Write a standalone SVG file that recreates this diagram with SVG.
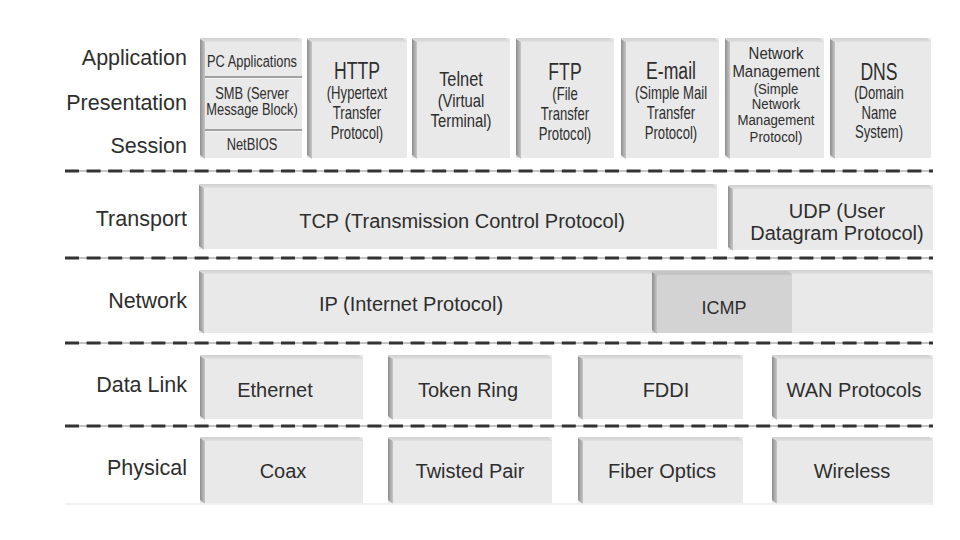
<svg xmlns="http://www.w3.org/2000/svg" width="960" height="540" viewBox="0 0 960 540">
<defs>
<linearGradient id="gSide" x1="0" y1="0" x2="1" y2="0">
<stop offset="0" stop-color="#8e8e8e"/><stop offset="1" stop-color="#c6c6c6"/>
</linearGradient>
<linearGradient id="gTop" x1="0" y1="0" x2="0" y2="1">
<stop offset="0" stop-color="#cfcfcf"/><stop offset="1" stop-color="#e0e0e0"/>
</linearGradient>
<style>
.face{fill:#e9e9e9}
.dark{fill:#d3d3d3}
.top{fill:url(#gTop)}
.topd{fill:#c4c4c4}
.side{fill:url(#gSide)}
.div{stroke:#a0a0a0;stroke-width:2}
.divh{stroke:#f4f4f4;stroke-width:1}
text{font-family:"Liberation Sans",Arial,sans-serif;fill:#2e2e2e;text-anchor:middle}
.lbl{font-size:21.5px;text-anchor:end}
.t{font-size:20px}
.icmp{font-size:18px}
.s1{font-size:16.5px}
.at{font-size:23.5px}
.as{font-size:17.5px}
.tt{font-size:21px}
.ts{font-size:19px}
.n1{font-size:17px}
.n2{font-size:15px}
.sepl{stroke:#8a8a8a;stroke-width:1}
.sepd{stroke:#333;stroke-width:3.2;stroke-dasharray:14 7.6;fill:none}
</style>
</defs>
<rect width="960" height="540" fill="#ffffff"/>

<g id="layer-labels">
<text class="lbl" x="187" y="65">Application</text>
<text class="lbl" x="187" y="110">Presentation</text>
<text class="lbl" x="187" y="153">Session</text>
<text class="lbl" x="187" y="226">Transport</text>
<text class="lbl" x="187" y="308">Network</text>
<text class="lbl" x="187" y="392">Data Link</text>
<text class="lbl" x="187" y="475">Physical</text>
</g>

<g id="pc-smb-netbios">
<rect class="face" x="200" y="38" width="102" height="120"/>
<polygon class="top" points="200,38 298,38 302,42 205,42"/>
<polygon class="side" points="200,39 205,42 205,159 200,155"/>
<line class="div" x1="205" y1="77" x2="302" y2="77"/>
<line class="divh" x1="205" y1="78.5" x2="302" y2="78.5"/>
<line class="div" x1="205" y1="130" x2="302" y2="130"/>
<line class="divh" x1="205" y1="131.5" x2="302" y2="131.5"/>
<g transform="translate(252 0) scale(0.78 1)">
<text class="s1" x="0" y="67">PC Applications</text>
<text class="s1" x="0" y="99">SMB (Server</text>
<text class="s1" x="0" y="115.5">Message Block)</text>
<text class="s1" x="0" y="150.5">NetBIOS</text>
</g>
</g>

<g id="http">
<rect class="face" x="307" y="38" width="100" height="120"/>
<polygon class="top" points="307,38 403,38 407,42 312,42"/>
<polygon class="side" points="307,39 312,42 312,159 307,155"/>
<g transform="translate(357 0) scale(0.75 1)">
<text class="at" x="0" y="79">HTTP</text>
<text class="as" x="0" y="99">(Hypertext</text>
<text class="as" x="0" y="119">Transfer</text>
<text class="as" x="0" y="139">Protocol)</text>
</g>
</g>

<g id="telnet">
<rect class="face" x="412" y="38" width="98" height="120"/>
<polygon class="top" points="412,38 506,38 510,42 417,42"/>
<polygon class="side" points="412,39 417,42 417,159 412,155"/>
<g transform="translate(461 0) scale(0.78 1)">
<text class="tt" x="0" y="86">Telnet</text>
<text class="ts" x="0" y="107">(Virtual</text>
<text class="ts" x="0" y="127">Terminal)</text>
</g>
</g>

<g id="ftp">
<rect class="face" x="516" y="38" width="98" height="120"/>
<polygon class="top" points="516,38 610,38 614,42 521,42"/>
<polygon class="side" points="516,39 521,42 521,159 516,155"/>
<g transform="translate(565 0) scale(0.75 1)">
<text class="at" x="0" y="80">FTP</text>
<text class="as" x="0" y="100">(File</text>
<text class="as" x="0" y="120">Transfer</text>
<text class="as" x="0" y="140">Protocol)</text>
</g>
</g>

<g id="email">
<rect class="face" x="621" y="38" width="98" height="120"/>
<polygon class="top" points="621,38 715,38 719,42 626,42"/>
<polygon class="side" points="621,39 626,42 626,159 621,155"/>
<g transform="translate(671 0) scale(0.75 1)">
<text class="at" x="0" y="79">E-mail</text>
<text class="as" x="0" y="99">(Simple Mail</text>
<text class="as" x="0" y="119">Transfer</text>
<text class="as" x="0" y="139">Protocol)</text>
</g>
</g>

<g id="network-management">
<rect class="face" x="725" y="38" width="99" height="120"/>
<polygon class="top" points="725,38 820,38 824,42 730,42"/>
<polygon class="side" points="725,39 730,42 730,159 725,155"/>
<g transform="translate(776 0) scale(0.88 1)">
<text class="n1" x="0" y="59">Network</text>
<text class="n1" x="0" y="77">Management</text>
<text class="n2" x="0" y="94">(Simple</text>
<text class="n2" x="0" y="109.5">Network</text>
<text class="n2" x="0" y="125.5">Management</text>
<text class="n2" x="0" y="142">Protocol)</text>
</g>
</g>

<g id="dns">
<rect class="face" x="830" y="38" width="101" height="120"/>
<polygon class="top" points="830,38 927,38 931,42 835,42"/>
<polygon class="side" points="830,39 835,42 835,159 830,155"/>
<g transform="translate(879 0) scale(0.75 1)">
<text class="at" x="0" y="80">DNS</text>
<text class="as" x="0" y="99">(Domain</text>
<text class="as" x="0" y="119">Name</text>
<text class="as" x="0" y="138">System)</text>
</g>
</g>

<g id="tcp">
<rect class="face" x="199" y="184" width="518" height="65"/>
<polygon class="top" points="199,184 713,184 717,188 204,188"/>
<polygon class="side" points="199,185 204,188 204,250 199,246"/>
<text class="t" x="462" y="228">TCP (Transmission Control Protocol)</text>
</g>

<g id="udp">
<rect class="face" x="728" y="185" width="205" height="65"/>
<polygon class="top" points="728,185 929,185 933,189 733,189"/>
<polygon class="side" points="728,186 733,189 733,251 728,247"/>
<text class="t" x="837" y="218">UDP (User</text>
<text class="t" x="837" y="240">Datagram Protocol)</text>
</g>

<g id="ip">
<rect class="face" x="199" y="270" width="734" height="63"/>
<polygon class="top" points="199,270 929,270 933,274 204,274"/>
<polygon class="side" points="199,271 204,274 204,334 199,330"/>
<text class="t" x="411" y="311">IP (Internet Protocol)</text>
</g>

<g id="icmp">
<rect class="dark" x="652" y="271" width="140" height="62"/>
<polygon class="topd" points="652,271 788,271 792,275 657,275"/>
<polygon class="side" points="652,272 657,275 657,334 652,330"/>
<text class="icmp" x="724" y="313.5">ICMP</text>
</g>

<g id="ethernet">
<rect class="face" x="200" y="355" width="163" height="64"/>
<polygon class="top" points="200,355 359,355 363,359 205,359"/>
<polygon class="side" points="200,356 205,359 205,420 200,416"/>
<text class="t" x="275" y="397">Ethernet</text>
</g>

<g id="token-ring">
<rect class="face" x="388" y="355" width="164" height="64"/>
<polygon class="top" points="388,355 548,355 552,359 393,359"/>
<polygon class="side" points="388,356 393,359 393,420 388,416"/>
<text class="t" x="468" y="397">Token Ring</text>
</g>

<g id="fddi">
<rect class="face" x="578" y="355" width="165" height="64"/>
<polygon class="top" points="578,355 739,355 743,359 583,359"/>
<polygon class="side" points="578,356 583,359 583,420 578,416"/>
<text class="t" x="666" y="397">FDDI</text>
</g>

<g id="wan-protocols">
<rect class="face" x="772" y="355" width="161" height="64"/>
<polygon class="top" points="772,355 929,355 933,359 777,359"/>
<polygon class="side" points="772,356 777,359 777,420 772,416"/>
<text class="t" x="854" y="397">WAN Protocols</text>
</g>

<g id="coax">
<rect class="face" x="200" y="437" width="163" height="66"/>
<polygon class="top" points="200,437 359,437 363,441 205,441"/>
<polygon class="side" points="200,438 205,441 205,504 200,500"/>
<text class="t" x="283" y="478">Coax</text>
</g>

<g id="twisted-pair">
<rect class="face" x="388" y="437" width="164" height="66"/>
<polygon class="top" points="388,437 548,437 552,441 393,441"/>
<polygon class="side" points="388,438 393,441 393,504 388,500"/>
<text class="t" x="470" y="478">Twisted Pair</text>
</g>

<g id="fiber-optics">
<rect class="face" x="578" y="437" width="165" height="66"/>
<polygon class="top" points="578,437 739,437 743,441 583,441"/>
<polygon class="side" points="578,438 583,441 583,504 578,500"/>
<text class="t" x="662" y="478">Fiber Optics</text>
</g>

<g id="wireless">
<rect class="face" x="772" y="437" width="161" height="66"/>
<polygon class="top" points="772,437 929,437 933,441 777,441"/>
<polygon class="side" points="772,438 777,441 777,504 772,500"/>
<text class="t" x="852" y="478">Wireless</text>
</g>

<g id="separators">
<line class="sepl" x1="65" y1="171" x2="933" y2="171"/>
<line class="sepd" x1="65" y1="171" x2="933" y2="171"/>
<line class="sepl" x1="65" y1="258" x2="933" y2="258"/>
<line class="sepd" x1="65" y1="258" x2="933" y2="258"/>
<line class="sepl" x1="65" y1="343" x2="933" y2="343"/>
<line class="sepd" x1="65" y1="343" x2="933" y2="343"/>
<line class="sepl" x1="65" y1="426" x2="933" y2="426"/>
<line class="sepd" x1="65" y1="426" x2="933" y2="426"/>
<line x1="65" y1="504" x2="933" y2="504" stroke="#e2e2e2" stroke-width="1"/>
</g>
</svg>
